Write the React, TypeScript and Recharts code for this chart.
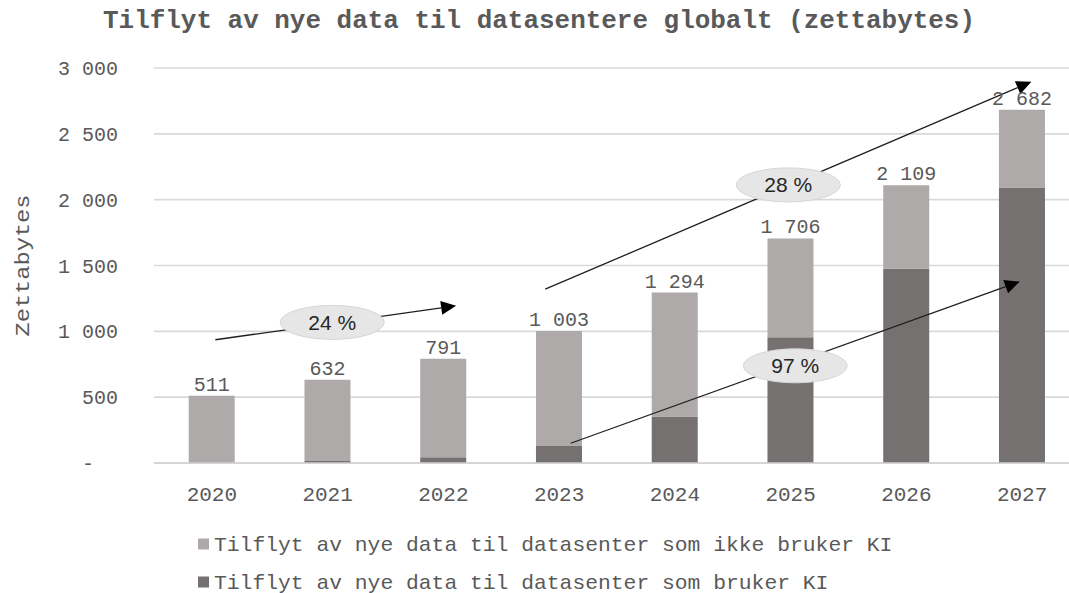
import React from 'react';
import {
  BarChart,
  Bar,
  XAxis,
  YAxis,
  CartesianGrid,
  LabelList,
  ReferenceLine,
  ReferenceDot,
} from 'recharts';

const years = ['2020', '2021', '2022', '2023', '2024', '2025', '2026', '2027'];
const totals = [511, 632, 791, 1003, 1294, 1706, 2109, 2682];
const withAI = [0, 15, 43, 130, 354, 956, 1476, 2092];
const withoutAI = [511, 617, 748, 873, 940, 750, 633, 590];
const yTicks = [0, 500, 1000, 1500, 2000, 2500, 3000];

const legendLabels = [
  'Tilflyt av nye data til datasenter som ikke bruker KI',
  'Tilflyt av nye data til datasenter som bruker KI',
];

// annotation arrows (x in category index units, y in zettabytes)
const arrows = [
  { x1: 0.03, y1: 936, x2: 2.11, y2: 1194 },
  { x1: 2.88, y1: 1320, x2: 7.08, y2: 2896 },
  { x1: 3.1, y1: 150, x2: 6.98, y2: 1378 },
];
const bubbles = [
  { x: 1.04, y: 1068, text: '24\u00a0%' },
  { x: 4.98, y: 2112, text: '28\u00a0%' },
  { x: 5.04, y: 738, text: '97\u00a0%' },
];

const data = years.map((year, i) => ({
  year,
  idx: i,
  withAI: withAI[i],
  withoutAI: withoutAI[i],
  total: totals[i],
}));

const LIGHT = '#AEAAAA';
const DARK = '#767171';
const TEXT = '#595959';
const MONO = '"Liberation Mono", "DejaVu Sans Mono", monospace';

const fmt = (v: number, sep = ' ') => String(v).replace(/\B(?=(\d{3})+(?!\d))/g, sep);
const yFmt = (v: number) => (v === 0 ? '-\u00a0\u00a0' : fmt(v, '\u00a0'));

const ArrowShape = (p: any) => {
  const { x1, y1, x2, y2 } = p;
  const dx = x2 - x1;
  const dy = y2 - y1;
  const len = Math.hypot(dx, dy) || 1;
  const ux = dx / len;
  const uy = dy / len;
  const L = 15;
  const W = 7;
  const bx = x2 - ux * L;
  const by = y2 - uy * L;
  const pts = `${x2},${y2} ${bx - uy * W},${by + ux * W} ${bx + uy * W},${by - ux * W}`;
  return (
    <g>
      <line x1={x1} y1={y1} x2={bx} y2={by} stroke="#1f1f1f" strokeWidth={1.3} />
      <polygon points={pts} fill="#000" />
    </g>
  );
};

const makeBubble = (text: string) => (p: any) => (
  <g>
    <ellipse cx={p.cx} cy={p.cy} rx={52} ry={17} fill="#E7E6E6" stroke="#D6D6D6" strokeWidth={1} />
    <text
      x={p.cx}
      y={p.cy + 7.5}
      textAnchor="middle"
      fontFamily='"Liberation Sans", Arial, sans-serif'
      fontSize={21}
      fill="#262626"
    >
      {text}
    </text>
  </g>
);

const YLabel = (p: any) => {
  const vb = p.viewBox || { x: 0, y: 0, width: 0, height: 0 };
  const cx = 23;
  const cy = vb.y + vb.height / 2;
  return (
    <text
      x={cx}
      y={cy}
      transform={`rotate(-90 ${cx} ${cy})`}
      textAnchor="middle"
      dominantBaseline="central"
      fontFamily={MONO}
      fontSize={21}
      fill={TEXT}
      textLength={142}
      lengthAdjust="spacingAndGlyphs"
    >
      Zettabytes
    </text>
  );
};

export default function App() {
  return (
    <div
      style={{
        position: 'fixed',
        left: 0,
        top: 0,
        width: 1069,
        height: 593,
        overflow: 'hidden',
        background: '#fff',
      }}
    >
      <BarChart
        width={1090}
        height={593}
        data={data}
        margin={{ top: 68, right: 10, bottom: 100, left: 0 }}
        barCategoryGap="30%"
      >
        <CartesianGrid vertical={false} stroke="#D9D9D9" strokeWidth={1.6} />
        <XAxis
          dataKey="year"
          tickLine={false}
          axisLine={{ stroke: '#D0D0D0', strokeWidth: 1.6 }}
          tick={{ fill: TEXT, fontSize: 21, fontFamily: MONO }}
          tickMargin={17}
          interval={0}
          height={30}
        />
        <XAxis
          xAxisId="ann"
          type="number"
          dataKey="idx"
          domain={[-0.5, 7.5]}
          hide
          allowDataOverflow
        />
        <YAxis
          width={154}
          domain={[0, 3000]}
          ticks={yTicks}
          tickFormatter={yFmt}
          tickLine={false}
          axisLine={false}
          tickMargin={30}
          tick={{ fill: TEXT, fontSize: 20, fontFamily: MONO }}
          label={{ content: YLabel }}
          interval={0}
        />
        <Bar dataKey="withAI" stackId="a" fill={DARK} isAnimationActive={false} />
        <Bar dataKey="withoutAI" stackId="a" fill={LIGHT} isAnimationActive={false}>
          <LabelList
            dataKey="total"
            position="top"
            offset={5}
            formatter={(v: any) => fmt(Number(v), '\u00a0')}
            style={{ fill: TEXT, fontSize: 20, fontFamily: MONO }}
          />
        </Bar>
        {arrows.map((a, i) => (
          <ReferenceLine
            key={`ar${i}`}
            xAxisId="ann"
            segment={[
              { x: a.x1, y: a.y1 },
              { x: a.x2, y: a.y2 },
            ]}
            ifOverflow="visible"
            shape={ArrowShape}
          />
        ))}
        {bubbles.map((b, i) => (
          <ReferenceDot
            key={`bd${i}`}
            xAxisId="ann"
            x={b.x}
            y={b.y}
            r={1}
            ifOverflow="visible"
            shape={makeBubble(b.text)}
          />
        ))}
      </BarChart>
      <svg
        width={1069}
        height={593}
        style={{ position: 'absolute', left: 0, top: 0, pointerEvents: 'none' }}
      >
        <text
          x={539}
          y={28}
          textAnchor="middle"
          fontFamily={MONO}
          fontWeight="bold"
          fontSize={25}
          fill={TEXT}
          textLength={872}
          lengthAdjust="spacingAndGlyphs"
        >
          Tilflyt av nye data til datasentere globalt (zettabytes)
        </text>
        {legendLabels.map((l, i) => {
          const cy = i === 0 ? 544 : 582;
          return (
            <g key={l}>
              <rect x={198} y={cy - 5.5} width={11} height={11} fill={i === 0 ? LIGHT : DARK} />
              <text
                x={214}
                y={cy + 6.5}
                fontFamily={MONO}
                fontSize={21}
                fill={TEXT}
                textLength={l.length * 12.8}
                lengthAdjust="spacingAndGlyphs"
              >
                {l}
              </text>
            </g>
          );
        })}
      </svg>
    </div>
  );
}
